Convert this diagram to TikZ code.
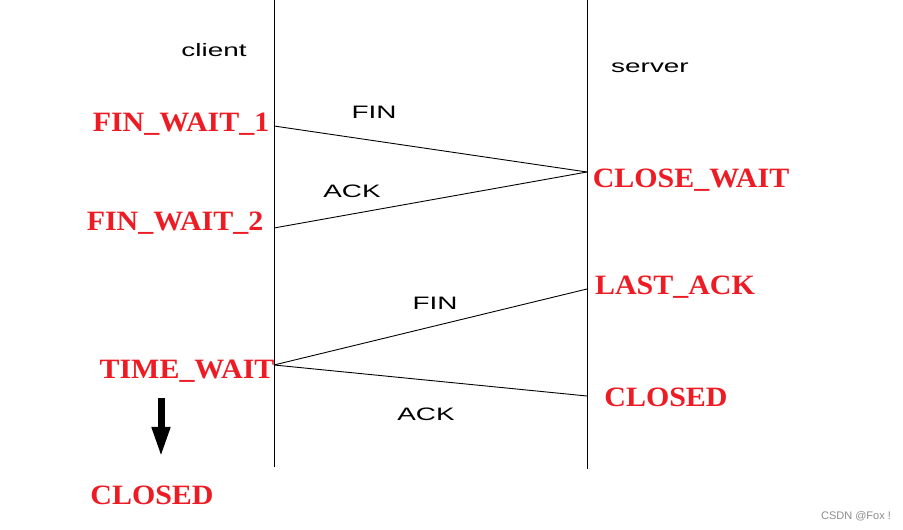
\documentclass[tikz,border=0pt]{standalone}
\usepackage{fontspec}
\setmainfont{Liberation Serif}
\setsansfont{Liberation Sans}
\usetikzlibrary{arrows.meta}
\definecolor{statered}{RGB}{237,28,36}
\tikzset{
  state/.style={text=statered, font=\fontsize{28}{30}\selectfont\bfseries, xscale=1.07, inner sep=0pt, anchor=center},
  msg/.style={font=\sffamily\fontsize{18}{20}\selectfont, xscale=1.55, inner sep=0pt},
  lifeline/.style={draw=black, line width=1pt},
  wire/.style={draw=black, line width=0.9pt}
}
\begin{document}
\begin{tikzpicture}[x=1pt,y=1pt]
\useasboundingbox[fill=white] (0,0) rectangle (903,530);
% lifelines
\coordinate (ctop) at (274,530);
\coordinate (cbot) at (274,63);
\coordinate (stop) at (587,530);
\coordinate (sbot) at (587,61);
\draw[lifeline] (ctop) -- (cbot);
\draw[lifeline] (stop) -- (sbot);
% endpoints
\coordinate (c1) at (274,404);
\coordinate (s1) at (587,358);
\coordinate (c2) at (274,302);
\coordinate (s2) at (587,241);
\coordinate (c3) at (274,165);
\coordinate (s3) at (587,134);
\draw[wire] (c1) -- (s1);
\draw[wire] (s1) -- (c2);
\draw[wire] (s2) -- (c3);
\draw[wire] (c3) -- (s3);
% headings
\node[msg] (client) at (214,480) {client};
\node[msg] (server) at (650,462) {server};
\node[msg] (fin1) at (374,418) {FIN};
\node[msg] (ack1) at (352,339) {ACK};
\node[msg] (fin2) at (435,227) {FIN};
\node[msg] (ack2) at (426,116) {ACK};
% states
\node[state] (fw1) at (181,405.5) {FIN\_WAIT\_1};
\node[state] (fw2) at (175,306.5) {FIN\_WAIT\_2};
\node[state] (cw) at (691,349.5) {CLOSE\_WAIT};
\node[state] (la) at (675,242.5) {LAST\_ACK};
\node[state] (tw) at (187,158.5) {TIME\_WAIT};
\node[state] (scl) at (666,132.5) {CLOSED};
\node[state] (ccl) at (152,34.5) {CLOSED};
% arrow
\coordinate (atop) at (161,132);
\coordinate (abot) at (161,73);
\draw[line width=7pt, -{Triangle[length=30pt,width=17pt]}] (atop) -- (abot);
% watermark
\node[font=\sffamily\fontsize{11}{12}\selectfont, text=black!45, inner sep=0pt] (wm) at (856,14) {CSDN @Fox !};
\end{tikzpicture}
\end{document}
